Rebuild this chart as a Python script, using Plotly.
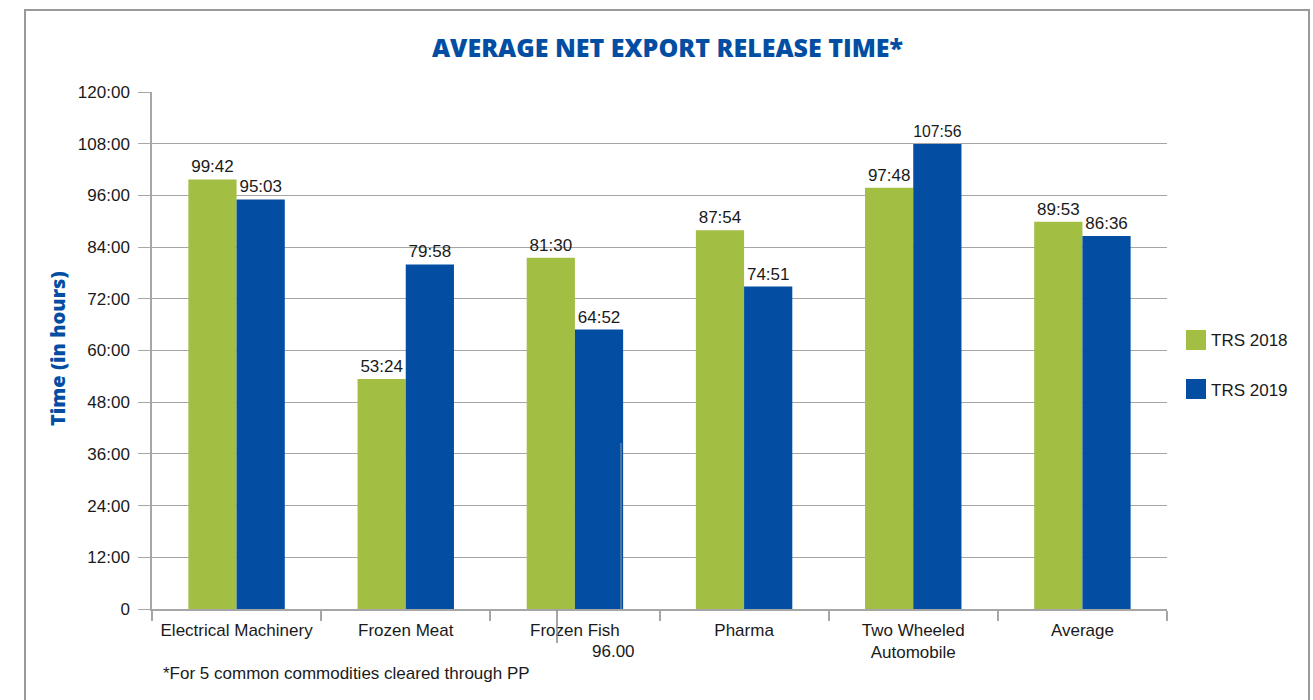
import plotly.graph_objects as go

categories = ["Electrical Machinery", "Frozen Meat", "Frozen Fish", "Pharma",
              "Two Wheeled<br>Automobile", "Average"]
labels_2018 = ["99:42", "53:24", "81:30", "87:54", "97:48", "89:53"]
labels_2019 = ["95:03", "79:58", "64:52", "74:51", "107:56", "86:36"]
tick_vals = [0, 12, 24, 36, 48, 60, 72, 84, 96, 108, 120]
tick_text = ["0", "12:00", "24:00", "36:00", "48:00", "60:00", "72:00",
             "84:00", "96:00", "108:00", "120:00"]


def to_hours(s):
    h, m = s.split(":")
    return int(h) + int(m) / 60.0


trs_2018 = [to_hours(s) for s in labels_2018]
trs_2019 = [to_hours(s) for s in labels_2019]

GREEN = "#a2bf44"
BLUE = "#034ea2"
GRID = "#a6a6a6"
TXT = "#1a1a1a"
FONT = "Liberation Sans, Arial, sans-serif"
HEAVY = "Open Sans, Roboto, sans-serif"

# plot area in pixels
L, R, T, B = 152, 1167, 92, 609
W, H = 1313, 700


def px(x):
    return (x - L) / (R - L)


def py(y):
    return (B - y) / (B - T)


fig = go.Figure()
fig.add_trace(go.Bar(name="TRS 2018", x=categories, y=trs_2018, marker_color=GREEN,
                     marker_line_width=0, text=labels_2018, textposition="outside",
                     textfont=dict(family=FONT, size=17, color=TXT), cliponaxis=False,
                     showlegend=False))
fig.add_trace(go.Bar(name="TRS 2019", x=categories, y=trs_2019, marker_color=BLUE,
                     marker_line_width=0, text=labels_2019, textposition="outside",
                     textfont=dict(family=FONT, size=17, color=TXT), cliponaxis=False,
                     showlegend=False))

fig.update_layout(
    width=W, height=H,
    margin=dict(l=L, r=W - R, t=T, b=H - B, pad=0),
    paper_bgcolor="white", plot_bgcolor="white",
    barmode="group", bargap=0.43, bargroupgap=0,
    font=dict(family=FONT, size=17, color=TXT),
    title=dict(text="AVERAGE NET EXPORT RELEASE TIME*", x=667.5 / W, xanchor="center",
               y=1 - 48 / H, yanchor="middle", xref="container", yref="container",
               font=dict(family=HEAVY, size=25, color=BLUE, weight=800)),
    showlegend=False,
)
fig.update_yaxes(range=[0, 120], tickvals=tick_vals, ticktext=tick_text,
                 showgrid=True, gridcolor=GRID, gridwidth=1,
                 showline=True, linecolor=GRID, linewidth=1.5,
                 ticks="outside", ticklen=12, tickcolor=GRID, tickwidth=1,
                 ticklabelstandoff=5, zeroline=False,
                 tickfont=dict(family=FONT, size=17, color=TXT))
fig.update_xaxes(showline=True, linecolor=GRID, linewidth=1.5,
                 ticks="outside", tickson="boundaries", ticklen=10, tickcolor=GRID,
                 tickwidth=1.5, ticklabelstandoff=5,
                 tickfont=dict(family=FONT, size=17, color=TXT))

shapes = []
# outer frame
shapes.append(dict(type="rect", xref="paper", yref="paper",
                   x0=px(25), x1=px(1309), y0=py(720), y1=py(10),
                   line=dict(color="#999999", width=2), fillcolor="rgba(0,0,0,0)"))
# stray vertical lines from source
shapes.append(dict(type="line", xref="paper", yref="paper",
                   x0=px(621), x1=px(621), y0=py(443), y1=py(609),
                   line=dict(color="#999999", width=1)))
shapes.append(dict(type="line", xref="paper", yref="paper",
                   x0=px(557), x1=px(557), y0=py(610), y1=py(643),
                   line=dict(color="#888888", width=1.5)))
# legend swatches
shapes.append(dict(type="rect", xref="paper", yref="paper",
                   x0=px(1186), x1=px(1206), y0=py(350), y1=py(330),
                   fillcolor=GREEN, line=dict(width=0)))
shapes.append(dict(type="rect", xref="paper", yref="paper",
                   x0=px(1186), x1=px(1206), y0=py(399), y1=py(379),
                   fillcolor=BLUE, line=dict(width=0)))
fig.update_layout(shapes=shapes)

ann = []
ann.append(dict(text="Time (in hours)", xref="paper", yref="paper", x=px(57), y=py(349),
                xanchor="center", yanchor="middle", textangle=-90, showarrow=False,
                font=dict(family=HEAVY, size=20, color=BLUE, weight=800)))
ann.append(dict(text="TRS 2018", xref="paper", yref="paper", x=px(1209), y=py(340),
                xanchor="left", yanchor="middle", showarrow=False,
                font=dict(family=FONT, size=17, color=TXT)))
ann.append(dict(text="TRS 2019", xref="paper", yref="paper", x=px(1209), y=py(390),
                xanchor="left", yanchor="middle", showarrow=False,
                font=dict(family=FONT, size=17, color=TXT)))
ann.append(dict(text="96.00", xref="paper", yref="paper", x=px(637), y=py(651),
                xanchor="right", yanchor="middle", showarrow=False,
                font=dict(family=FONT, size=17, color=TXT)))
ann.append(dict(text="*For 5 common commodities cleared through PP", xref="paper",
                yref="paper", x=px(161), y=py(673), xanchor="left", yanchor="middle",
                showarrow=False, font=dict(family=FONT, size=17, color=TXT)))
fig.update_layout(annotations=ann)

fig.write_html("out.html")
